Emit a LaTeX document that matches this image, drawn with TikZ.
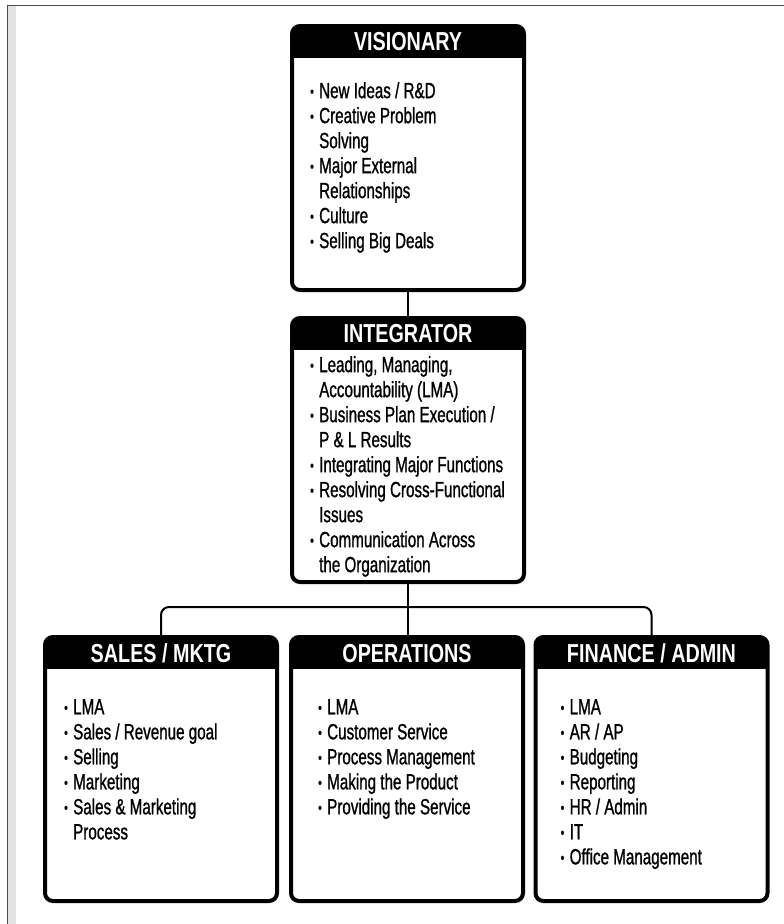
\documentclass[tikz,border=0pt]{standalone}
\usepackage{fontspec}
\setmainfont{Liberation Sans}[FakeStretch=0.69, FakeBold=1]
\newfontfamily\headfont{Liberation Sans}[FakeStretch=0.76]
\usetikzlibrary{positioning}
\newcommand{\bul}{\makebox[9pt][l]{\raisebox{1.5pt}{\fontsize{15}{15}\selectfont\textbullet}}}
\newcommand{\cont}{\hspace*{9pt}}

\begin{document}
\begin{tikzpicture}[x=1pt, y=-1pt,
    panel/.style={draw, fill=white, line width=4pt, rounded corners=8pt, outer sep=0pt,
        minimum width=232pt, minimum height=264pt},
    headtext/.style={text=white, anchor=base, inner sep=0pt,
        font=\headfont\bfseries\fontsize{26}{26}\selectfont},
    items/.style={anchor=north west, align=left, inner sep=0pt,
        font=\fontsize{22}{25}\selectfont},
    link/.style={line width=2pt}]
    \useasboundingbox (0,0) rectangle (784,924);

    % page frame
    \fill[gray!22] (8,6) rectangle (16,924);
    \draw[gray!60!black, line width=1.5pt] (7.5,924) -- (7.5,5.5) -- (784,5.5);

    % the five panels
    \node[panel] (vis) at (408,158) {};
    \node[panel] (int) at (408,450) {};
    \node[panel] (sales) at (161,769) {};
    \node[panel] (ops) at (407,769) {};
    \node[panel] (fin) at (651.5,769) {};

    % black title bands
    \foreach \p in {vis,int,sales,ops,fin} {
        \begin{scope}
            \clip[rounded corners=8pt] (\p.south west) rectangle (\p.north east);
            \fill (\p.north west) rectangle ([yshift=-32pt]\p.north east);
        \end{scope}
    }
    \node[headtext] (vis-title) at ([yshift=-24pt]vis.north) {VISIONARY};
    \node[headtext] (int-title) at ([yshift=-24pt]int.north) {INTEGRATOR};
    \node[headtext] (sales-title) at ([yshift=-25pt]sales.north) {SALES / MKTG};
    \node[headtext] (ops-title) at ([yshift=-25pt]ops.north) {OPERATIONS};
    \node[headtext] (fin-title) at ([yshift=-25pt]fin.north) {FINANCE / ADMIN};

    % lists
    \node[items, below right=56pt and 18pt of vis.north west] (vis-list) {%
        \bul New Ideas / R\&D\\ \bul Creative Problem\\ \cont Solving\\
        \bul Major External\\ \cont Relationships\\ \bul Culture\\ \bul Selling Big Deals};
    \node[items, below right=38pt and 18pt of int.north west] (int-list) {%
        \bul Leading, Managing,\\ \cont Accountability (LMA)\\
        \bul Business Plan Execution /\\ \cont P \& L Results\\
        \bul Integrating Major Functions\\ \bul Resolving Cross-Functional\\ \cont Issues\\
        \bul Communication Across\\ \cont the Organization};
    \node[items, below right=62pt and 19pt of sales.north west] (sales-list) {%
        \bul LMA\\ \bul Sales / Revenue goal\\ \bul Selling\\ \bul Marketing\\
        \bul Sales \& Marketing\\ \cont Process};
    \node[items, below right=62pt and 27pt of ops.north west] (ops-list) {%
        \bul LMA\\ \bul Customer Service\\ \bul Process Management\\
        \bul Making the Product\\ \bul Providing the Service};
    \node[items, below right=62pt and 25pt of fin.north west] (fin-list) {%
        \bul LMA\\ \bul AR / AP\\ \bul Budgeting\\ \bul Reporting\\ \bul HR / Admin\\
        \bul IT\\ \bul Office Management};

    % connectors
    \coordinate (bar) at (408,607);
    \draw[link] (vis.south) -- (int.north);
    \draw[link] (int.south) -- (int.south |- ops.north);
    \draw[link, rounded corners=8pt] (sales.north) |- (bar) -| (fin.north);
\end{tikzpicture}
\end{document}
